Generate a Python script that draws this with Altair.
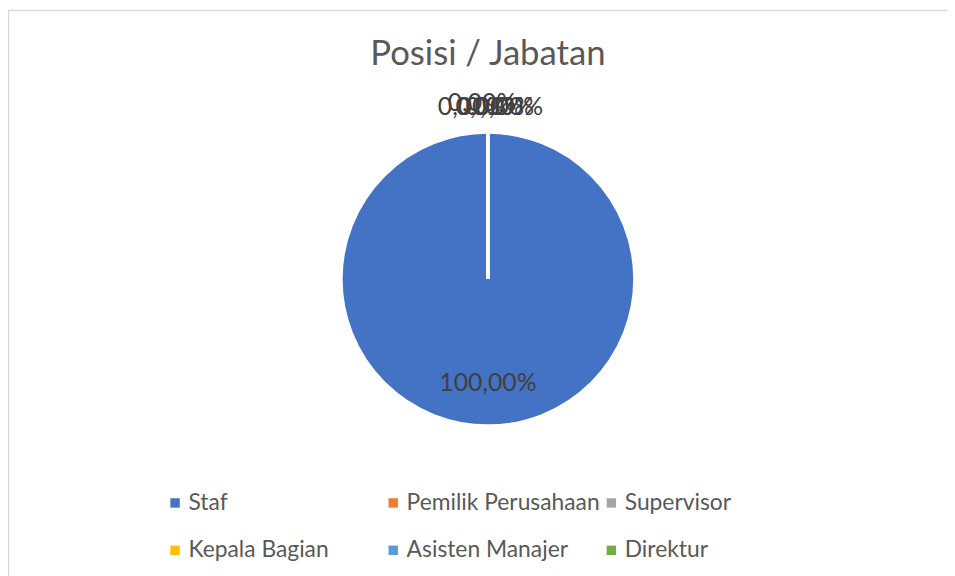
import altair as alt
import pandas as pd

categories = ["Staf", "Pemilik Perusahaan", "Supervisor", "Kepala Bagian", "Asisten Manajer", "Direktur"]
percentages = [100.0, 0.0, 0.0, 0.0, 0.0, 0.0]
colors = ["#4472C4", "#ED7D31", "#A5A5A5", "#FFC000", "#5B9BD5", "#70AD47"]
chart_title = "Posisi / Jabatan"

FONT = "Lato"
TXT = "#595959"
CX, CY, R = 484, 201, 148

# small style offsets for the overlapping 0,00% labels (Excel best-fit look)
zero_label_offsets = {
    "Pemilik Perusahaan": (-16, 0),
    "Supervisor": (-6, -4),
    "Kepala Bagian": (2, 0),
    "Asisten Manajer": (12, 0),
    "Direktur": (21, 0),
}

df = pd.DataFrame({"Posisi": categories, "pct": percentages, "ord": list(range(len(categories)))})

base = alt.Chart(df).transform_calculate(
    label="replace(format(datum.pct, '.2f'), '.', ',') + '%'"
)

theta = alt.Theta("pct:Q", stack=True)
order = alt.Order("ord:Q")

color = alt.Color(
    "Posisi:N",
    sort=categories,
    scale=alt.Scale(domain=categories, range=colors),
    legend=alt.Legend(
        orient="none",
        legendX=157,
        legendY=415,
        direction="horizontal",
        columns=3,
        gridAlign="all",
        title=None,
        symbolType="square",
        symbolSize=90,
        symbolStrokeWidth=0,
        labelFont=FONT,
        labelFontSize=23,
        labelColor=TXT,
        labelOffset=2,
        labelLimit=400,
        columnPadding=-2,
        rowPadding=24,
        padding=0,
    ),
)

pie = base.mark_arc(outerRadius=R, stroke="white", strokeWidth=3).encode(
    theta=theta, color=color, order=order, x=alt.value(CX), y=alt.value(CY)
)

main_label = base.transform_filter(alt.datum.Posisi == "Staf").mark_text(
    radius=105, font=FONT, fontSize=25, color="#404040"
).encode(theta=theta, text="label:N", x=alt.value(CX), y=alt.value(CY))

layers = [pie, main_label]
for cat, (ddx, ddy) in zero_label_offsets.items():
    layers.append(
        base.transform_filter(alt.datum.Posisi == cat).mark_text(
            radius=174, dx=ddx, dy=ddy, font=FONT, fontSize=25, color="#404040"
        ).encode(theta=theta, text="label:N", x=alt.value(CX), y=alt.value(CY))
    )

title_df = pd.DataFrame({"t": [chart_title]})
title_mark = alt.Chart(title_df).mark_text(
    font=FONT, fontSize=35, color=TXT, baseline="middle", align="center"
).encode(text="t:N", x=alt.value(484), y=alt.value(-26))
layers.append(title_mark)

border = alt.Chart(pd.DataFrame({"a": [0]})).mark_rect(
    fillOpacity=0, stroke="#d9d9d9", strokeWidth=1.5
).encode(x=alt.value(0.5), x2=alt.value(1000), y=alt.value(-70), y2=alt.value(600))
layers.append(border)

chart = alt.layer(*layers).properties(
    width=947,
    height=498,
    padding={"left": 0, "top": 70, "right": 0, "bottom": 0},
    autosize=alt.AutoSizeParams(type="none"),
    background="white",
).configure_view(stroke=None)

chart.save("out.html", embed_options={"renderer": "svg", "actions": False})
